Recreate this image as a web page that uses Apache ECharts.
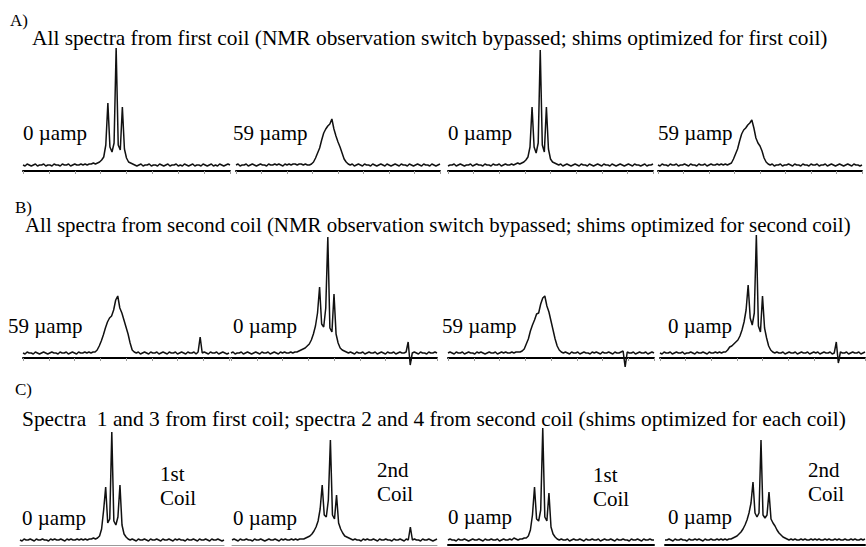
<!DOCTYPE html>
<html>
<head>
<meta charset="utf-8">
<script src="https://cdn.jsdelivr.net/npm/echarts@6/dist/echarts.min.js"></script>
<style>
html,body{margin:0;padding:0;background:#fff;}
#chart{width:866px;height:547px;}
</style>
</head>
<body>
<div id="chart"></div>
<script>
// ---- Data: spectrum intensities sampled on a 0..100 chemical-shift grid (one value per unit) ----
const specA1 = [6,5,7,6,5,6,7,5,6,6, 7,5,6,6,5,7,6,6,5,7, 6,6,7,5,6,7,6,6,7,6, 7,6,7,7,8,7,8,9,
  11,14,26,68,24,19,28,123,26,21,64,22,13,9,8,
  7,6,5,6,7,5,6, 6,7,5,6,6,5,7,6,5,6, 7,5,6,6,7,5,6,5,7,6, 5,6,7,5,6,6,5,7,6,5, 6,7,5,6,5,7,6,5,6,7,6];
const specA2 = [6,7,5,6,6,7,5,6,7,6, 5,6,7,6,6,5,7,6,6,7, 6,7,6,5,7,6,7,6,7,7, 6,7,7,6,7,6,
  6,7,9,13,18,23,31,38,42,45,47,52,42,35,29,24,18,12,9,7,
  6,7,5,6, 7,6,5,7,6,6,5,7,6,5, 6,7,6,5,7,6,5,6,7,6, 5,7,6,6,5,7,6,5,6,7, 6,5,7,6,6,5,7,6,5,6,7];
const specA3 = [5,6,6,7,5,6,7,6,5,6, 6,7,5,6,7,6,6,5,7,6, 6,5,7,6,6,7,5,6,7,6, 6,7,6,7,8,7,8,9,
  11,14,24,64,24,18,28,121,26,19,64,22,12,9,8,
  7,6,7,5,6,7,6, 5,6,7,6,5,7,6,6,5,7, 6,5,6,7,6,5,7,6,6,5, 7,6,5,6,7,6,5,6,7,6, 5,7,6,6,5,6,7,5,6,6,7];
const specA4 = [6,5,7,6,6,5,7,6,6,7, 5,6,6,7,6,5,7,6,6,5, 7,6,6,7,5,6,7,6,6,7, 6,7,6,7,
  6,7,8,12,17,22,30,37,41,43,46,48,51,43,33,28,25,20,13,9,7,
  6,7,5,6,6, 7,5,6,6,7,6,5,7,6,6, 5,7,6,6,5,7,6,6,7,5, 6,6,7,5,6,7,6,5,6,7, 6,5,6,7,6,5,7,6,6,5,6];

const specB1 = [5,4,6,5,5,4,6,5,4,5, 6,5,4,5,6,5,5,4,6,5, 5,6,4,5,6,5,4,6,5,5, 6,5,6,5,6,
  6,8,12,17,23,30,36,40,42,48,58,62,50,45,38,31,24,15,8,6,
  5,6,4,5,6, 5,4,6,5,5,6,4,5,6,5, 4,6,5,5,6,4,5,6,5,4, 6,5,5,6,4,6,
  21,
  5,6,5, 4,6,5,5,6,4,5,6,5,4,5];
const specB2 = [5,6,4,5,5,6,4,5,6,5, 4,5,6,5,4,6,5,5,6,4, 5,6,5,4,6,5,6,5,5,6, 5,6,
  6,7,8,9,10,12,14,18,24,32,45,71,34,31,50,121,30,26,64,24,15,10,8,7,
  6,5,6,5, 4,6,5,5,6,4,5,6,5,5, 6,4,5,6,5,4,6,5,5,6, 4,5,6,5,5,6,
  16,-7,
  5,6, 5,4,6,5,5,4,6,5,5,6,5];
const specB3 = [5,6,5,4,6,5,5,6,4,5, 6,5,5,4,6,5,6,5,4,5, 6,5,5,6,4,5,6,5,6,5, 5,6,5,6,6,
  6,7,9,14,19,27,33,38,44,45,54,60,62,52,46,37,28,19,12,8,6,
  5,6,5,4, 6,5,5,6,4,5,6,5,5,4, 6,5,6,5,4,6,5,5,6,5, 4,6,5,5,6,7,
  -9,
  6,5,5, 6,4,5,6,5,5,6,4,5,6,5];
const specB4 = [5,4,6,5,5,6,4,5,6,5, 5,6,4,5,5,6,5,4,6,5, 5,6,5,4,6,5,5,6,5,6, 5,6,
  6,8,11,12,14,16,18,22,28,36,48,73,40,33,45,123,32,26,62,30,20,12,8,6,
  5,6,5,5, 6,4,5,6,5,5,6,4,5,6, 5,5,6,4,5,6,5,6,4,5, 6,5,5,6,4,5,
  16,-5,
  6,5, 5,6,4,5,6,5,5,6,4,5,6];

const specC1 = [5,4,6,5,5,6,5,4,6,5, 5,6,5,5,4,6,5,6,5,5, 6,5,4,6,5,6,5,5,6,5, 6,5,6,5,6,6,7,6,
  7,9,16,35,58,22,26,113,24,20,28,60,20,11,8,
  6,5,6,5,4,6,5, 5,6,5,4,6,5,5,6,5,4, 6,5,5,6,5,4,6,5,6,5, 5,4,6,5,5,6,5,4,6,5, 5,6,5,4,6,5,5,6,5,4,5];
const specC2 = [5,6,5,4,6,5,5,6,5,5, 4,6,5,5,6,5,4,5,6,5, 5,6,5,4,6,5,6,5,5,6, 5,6,5,6,6,
  6,7,8,9,11,14,18,24,36,60,30,28,45,105,30,26,50,22,16,12,9,8,7,
  6,5, 6,5,5,4,6,5,6,5,5,6, 5,4,6,5,5,6,5,5,4,6, 5,5,6,5,4,6,5,
  18,
  5,6, 5,5,4,6,5,5,6,5,4,5,6];
const specC3 = [5,6,5,5,4,6,5,5,6,5, 4,5,6,5,5,6,5,4,6,5, 5,6,5,5,6,4,5,6,5,5, 6,5,7,6,5,6,6,7,
  7,9,15,30,58,26,24,35,117,28,24,52,18,11,8,
  6,5,6,5,5,6,4, 5,6,5,5,6,5,4,6,5,5, 6,5,5,6,4,5,6,5,5,6, 5,4,6,5,5,6,5,5,4,6, 5,5,6,5,4,6,5,5,6,5,5];
const specC4 = [5,5,6,5,4,6,5,5,6,5, 5,4,6,5,5,6,5,6,5,4, 6,5,5,6,5,5,6,5,6,5, 6,5,6,
  6,7,8,9,11,13,16,20,25,32,42,63,32,28,32,105,30,27,30,53,26,22,19,15,12,10,8,7,
  6,5,6,5,6,5,5,6,5, 6,5,5,6,5,6,5,6,5,5, 6,5,6,5,5,6,5,6,5,5, 6,5,5,6,5,6,5,5,6,5,6];

const spectra = [specA1, specA2, specA3, specA4, specB1, specB2, specB3, specB4, specC1, specC2, specC3, specC4];

// ---- Text ----
const panelLetters = ['A)', 'B)', 'C)'];
const panelTitles = [
  'All spectra from first coil (NMR observation switch bypassed; shims optimized for first coil)',
  'All spectra from second coil (NMR observation switch bypassed; shims optimized for second coil)',
  'Spectra  1 and 3 from first coil; spectra 2 and 4 from second coil (shims optimized for each coil)'
];
const currentLabels = ['0 µamp', '59 µamp', '0 µamp', '59 µamp',
                       '59 µamp', '0 µamp', '59 µamp', '0 µamp',
                       '0 µamp', '0 µamp', '0 µamp', '0 µamp'];
const coilLabels = [['1st', 'Coil'], ['2nd', 'Coil'], ['1st', 'Coil'], ['2nd', 'Coil']];

// ---- Layout (pixels) ----
const rowAxisY = [171, 358, 545];
const rowYMin = [-12, -12, -2];
const yMax = 125;
const panelBoxes = [
  [23, 207], [236, 204], [448, 205], [658, 204],
  [23, 206], [231, 206], [448, 206], [660, 205],
  [20, 204], [232, 205], [448, 206], [665, 200]
];
const letterPos = [[10, 20], [15, 207], [15, 389]];
const titlePos = [[32, 38], [25, 225], [22, 419]];
const titleSize = [21.4, 20.9, 21.4];
const labelPos = [[23, 133], [233, 133], [448, 133], [658, 133],
                  [8, 326], [233, 326], [442, 326], [668, 326],
                  [22, 518], [233, 518], [448, 517], [668, 517]];
const coilPos = [[160, 474, 498], [377, 470, 494], [593, 475, 499], [808, 470, 494]];

const FONT = "'Liberation Serif', 'Times New Roman', serif";

const grids = [], xAxes = [], yAxes = [], series = [];
panelBoxes.forEach((b, k) => {
  const row = Math.floor(k / 4);
  const ymin = rowYMin[row];
  const top = rowAxisY[row] - yMax;
  const darkAxis = !(row === 2 && k < 10);
  grids.push({left: b[0], width: b[1], top: top, height: yMax - ymin});
  xAxes.push({
    type: 'value', gridIndex: k, min: 0, max: 100, interval: 12.5,
    axisLine: {show: true, onZero: true, lineStyle: {color: darkAxis ? '#000' : '#999', width: darkAxis ? 2 : 1}},
    axisTick: {show: row < 2, length: 3, lineStyle: {color: '#999', width: 1}},
    axisLabel: {show: false}, splitLine: {show: false}
  });
  yAxes.push({type: 'value', gridIndex: k, min: ymin, max: yMax, show: false, splitLine: {show: false}});
  series.push({
    type: 'line', xAxisIndex: k, yAxisIndex: k, showSymbol: false, silent: true,
    lineStyle: {color: '#111', width: 1.5}, z: 3,
    data: spectra[k].map((v, i) => [i, v])
  });
});

const graphics = [];
function txt(s, x, y, size) {
  graphics.push({type: 'text', x: x, y: y, silent: true,
    style: {text: s, font: size + 'px ' + FONT, fill: '#000', textAlign: 'left', textVerticalAlign: 'middle'}});
}
panelLetters.forEach((s, i) => txt(s, letterPos[i][0], letterPos[i][1], 17));
panelTitles.forEach((s, i) => txt(s, titlePos[i][0], titlePos[i][1], titleSize[i]));
currentLabels.forEach((s, i) => txt(s, labelPos[i][0], labelPos[i][1], 21));
coilLabels.forEach((pair, i) => {
  txt(pair[0], coilPos[i][0], coilPos[i][1], 21);
  txt(pair[1], coilPos[i][0], coilPos[i][2], 21);
});

const chart = echarts.init(document.getElementById('chart'), null, {renderer: 'svg'});
chart.setOption({
  animation: false,
  backgroundColor: '#fff',
  grid: grids, xAxis: xAxes, yAxis: yAxes, series: series,
  graphic: graphics
});
</script>
</body>
</html>
